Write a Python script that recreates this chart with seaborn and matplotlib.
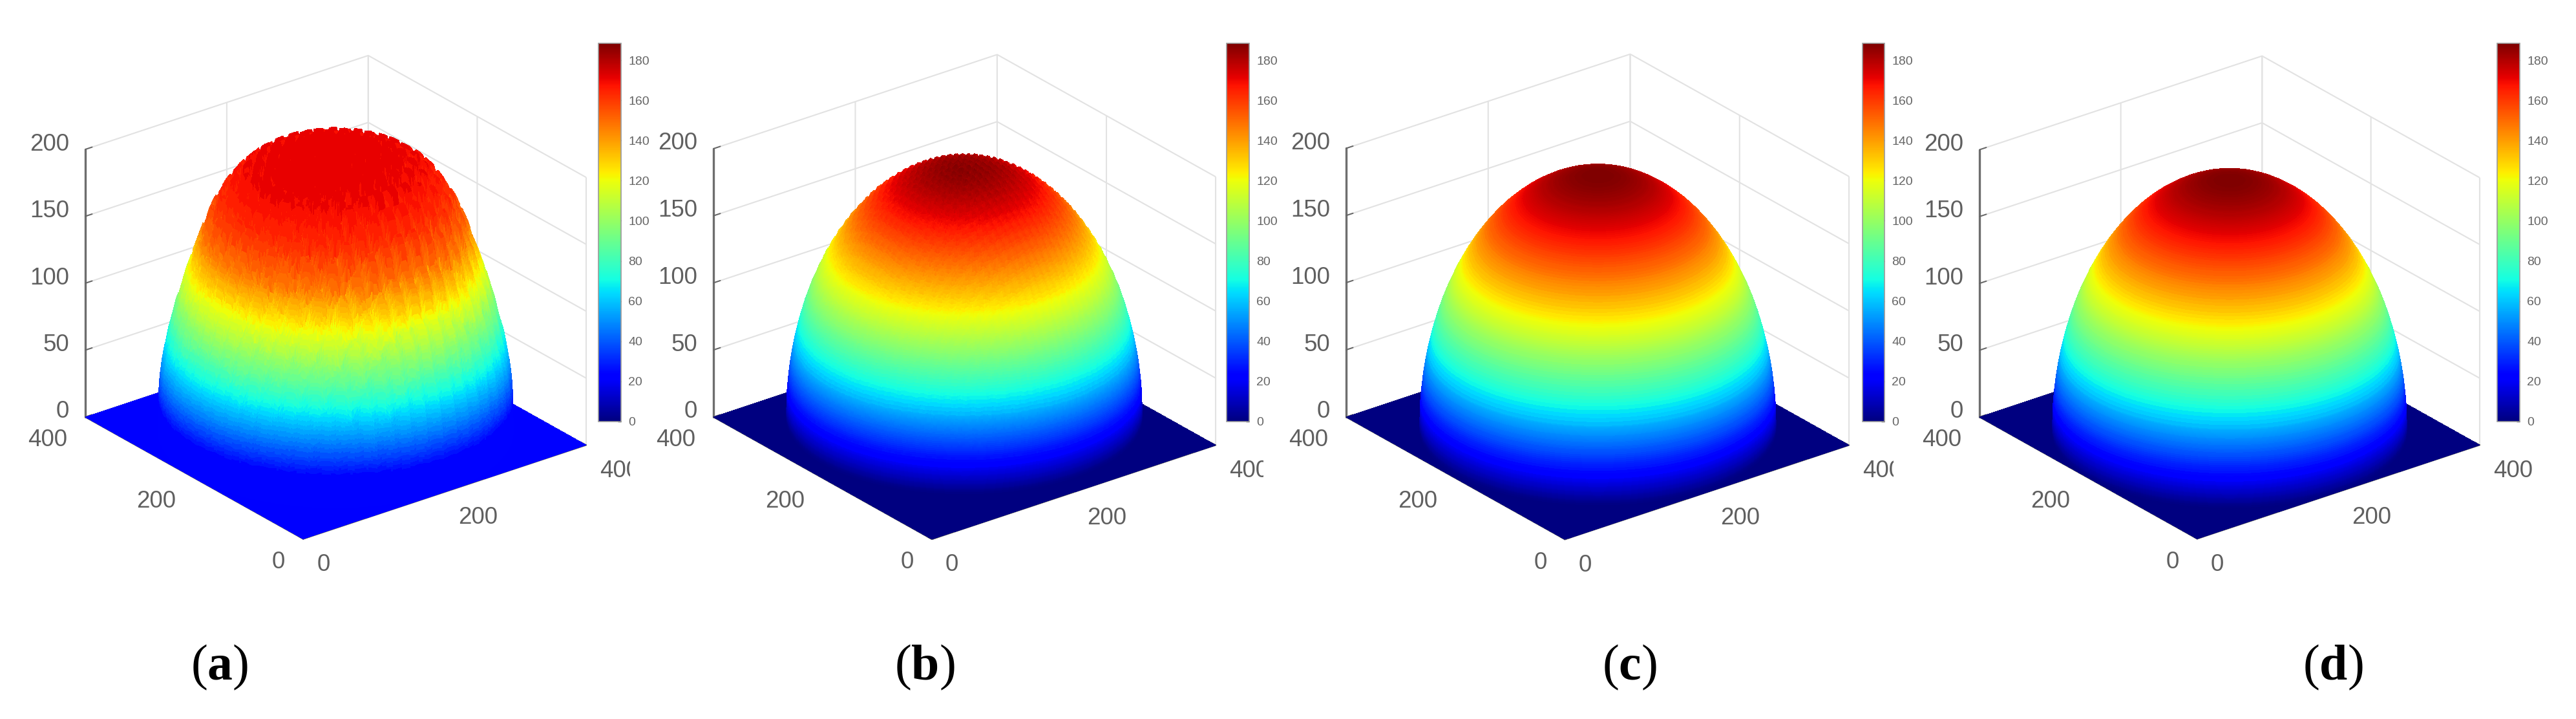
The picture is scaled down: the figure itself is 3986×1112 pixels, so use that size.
import itertools
import numpy as np
import matplotlib
matplotlib.use("Agg")
import matplotlib.pyplot as plt
import seaborn as sns
from matplotlib.cm import ScalarMappable
from matplotlib.colors import Normalize
from matplotlib.patches import Rectangle
from mpl_toolkits.mplot3d import proj3d

# ---- data ----
RADII = [0, 10, 20, 30, 40, 50, 60, 70, 80, 90, 100, 110, 120, 130, 140, 150, 160, 170,
         175, 180, 185, 190, 193, 195, 197, 198, 199]
HEIGHT_A = [212, 212, 212, 211, 210, 209, 208, 206, 204, 201, 197, 192, 185, 176, 165, 150, 132, 114,
            103, 93, 80, 68, 58, 50, 40, 32, 0]
HEIGHT_DOME = [188, 187.8, 187, 185.9, 184.2, 182, 179.3, 176, 172.1, 167.7, 162.5, 156.7, 150, 142.3,
               133.6, 123.5, 111.8, 97.7, 89.5, 80.1, 69.2, 55.9, 45.8, 37.5, 26.6, 18.8, 0]
# repeating dip along each floor axis (one value per 2-unit cell)
DIP_A = [18, 10, 3, 0, 0, 0, 0, 3, 10, 18]
DIP_B = [2.5, 1, 0, 1, 2.5]
CENTERS = [(200, 200), (222, 229), (205, 206), (200, 200)]
# panel (a): colour value seen at each surface height
COLOR_HEIGHT_A = [0, 23, 123, 150, 176, 197, 212]
COLOR_VALUE_A = [23, 23, 122, 148, 163, 170, 172]
COLOR_MAX = 188.4
FLOOR_VALUES = [23, 0, 0, 0]
XY_TICKS = [0, 200, 400]
Z_TICKS = [0, 50, 100, 150, 200]
CBAR_TICKS = [0, 20, 40, 60, 80, 100, 120, 140, 160, 180]
PANEL_LETTERS = ["a", "b", "c", "d"]

W, H = 3987, 1112
DPI = 100
GREY = "#5f5f5f"
ELEV, AZIM = 25.5, 232.4

sns.set_theme(style="white")
plt.rcParams["font.family"] = ["Liberation Sans", "DejaVu Sans"]
plt.rcParams["mathtext.fontset"] = "custom"
plt.rcParams["mathtext.bf"] = "Liberation Serif:bold"
plt.rcParams["mathtext.rm"] = "Liberation Serif"
plt.rcParams["grid.color"] = "#e2e2e2"
plt.rcParams["grid.linewidth"] = 1.5

jet = matplotlib.colormaps["jet"]
fig = plt.figure(figsize=(W / DPI, H / DPI), dpi=DPI, facecolor="white")

# layout in reference pixels (top-left origin)
CORNERS = [
    dict(left=132, right=907, y0=645),
    dict(left=1104, right=1881, y0=645),
    dict(left=2083, right=2861, y0=645),
    dict(left=3063, right=3837, y0=645),
]
CBAR_X = [(926, 961), (1898, 1933), (2882, 2916), (3864, 3899)]
LABEL_X = [340, 1431, 2521, 3610]
CUT_X = [975, 1955, 2930, None]


def project(ax, x, y, z):
    xp, yp, _ = proj3d.proj_transform(x, y, z, ax.get_proj())
    return ax.transData.transform((xp, yp))


def build_surface(heights, center, dip):
    rings = np.concatenate((np.arange(0, 150, 2.0), np.arange(150, 190, 1.0),
                            np.arange(190, 198, 0.25), np.arange(198, 199.01, 0.05)))
    angles = np.deg2rad(np.linspace(0, 360, 481))
    R, T = np.meshgrid(rings, angles)
    X = center[0] + R * np.cos(T)
    Y = center[1] + R * np.sin(T)
    Z = np.interp(R, RADII, heights)
    if dip is not None:
        d = np.asarray(dip, float)
        n = len(d)
        i = (X // 2).astype(int) % n
        j = (Y // 2).astype(int) % n
        Z = np.maximum(Z - (d[i] + d[j]) * (Z / max(heights)) ** 1.5, 0)
    return X, Y, Z


def painter_ranks(X, Y):
    # a height field seen from above: cells farther along the floor are painted first
    fx, fy = -np.cos(np.deg2rad(AZIM)), -np.sin(np.deg2rad(AZIM))
    depth = X * fx + Y * fy
    cells = (depth[:-1, :-1] + depth[1:, :-1] + depth[:-1, 1:] + depth[1:, 1:]) / 4
    return cells.ravel()


def polygon_key(ranks):
    counter = itertools.count()
    n = len(ranks)
    return lambda zs: ranks[next(counter) % n]


panels = [
    (HEIGHT_A, DIP_A),
    (HEIGHT_DOME, DIP_B),
    (HEIGHT_DOME, None),
    (HEIGHT_DOME, None),
]

norm = Normalize(0, COLOR_MAX)
for k, (heights, dip) in enumerate(panels):
    c = CORNERS[k]
    side = 900
    ax = fig.add_axes([c["left"] / W, 0.1, side / W, side / H], projection="3d", computed_zorder=False)
    ax.set_proj_type("ortho")
    ax.view_init(elev=ELEV, azim=AZIM)
    ax.set_box_aspect((553, 553, 459))
    ax.set_xlim(0, 400, view_margin=0)
    ax.set_ylim(0, 400, view_margin=0)
    ax.set_zlim(0, 200, view_margin=0)
    ax.patch.set_alpha(0)

    # floor
    fx, fy = np.meshgrid(XY_TICKS, XY_TICKS)
    ax.plot_surface(fx, fy, np.zeros_like(fx, dtype=float), color=jet(norm(FLOOR_VALUES[k])),
                    shade=False, linewidth=0, antialiased=False, zorder=1)

    # dome
    X, Y, Z = build_surface(heights, CENTERS[k], dip)
    if k == 0:
        colour_values = np.round(np.interp(Z, COLOR_HEIGHT_A, COLOR_VALUE_A) / 3) * 3
    else:
        colour_values = Z * COLOR_MAX / max(heights)
    surf = ax.plot_surface(X, Y, Z, facecolors=jet(norm(colour_values)), rcount=X.shape[0], ccount=X.shape[1],
                           shade=False, linewidth=0, antialiased=False, zorder=2)
    surf._zsortfunc = polygon_key(painter_ranks(X, Y))

    ax.set_xticks(XY_TICKS)
    ax.set_yticks(XY_TICKS)
    ax.set_zticks(Z_TICKS)
    ax.set_xticklabels([])
    ax.set_yticklabels([])
    ax.set_zticklabels([])
    ax.tick_params(axis="both", color="#666666")
    for axis in (ax.xaxis, ax.yaxis, ax.zaxis):
        axis.set_pane_color((1, 1, 1, 0))
        axis.pane.set_edgecolor((1, 1, 1, 0))
        axis.line.set_color("#5a5a5a")
        axis.line.set_linewidth(1.6)
        axis._axinfo["tick"]["inward_factor"] = 0.0
        axis._axinfo["tick"]["outward_factor"] = 0.3
        axis._axinfo["tick"]["linewidth"] = {True: 1.4, False: 1.0}
    ax.zaxis.line.set_color("#6e6e6e")
    ax.zaxis.line.set_linewidth(2.4)

    # place the box on the reference pixels
    for _ in range(2):
        ax.apply_aspect()
        p_left = project(ax, 0, 400, 0)
        p_right = project(ax, 400, 0, 0)
        scale = (c["right"] - c["left"]) / (p_right[0] - p_left[0])
        pos = ax.get_position()
        side_px = pos.width * W * scale
        ax.set_position([pos.x0, pos.y0, side_px / W, side_px / H])
        ax.apply_aspect()
        p_left = project(ax, 0, 400, 0)
        pos = ax.get_position()
        dx = c["left"] - p_left[0]
        dy = (H - c["y0"]) - p_left[1]
        ax.set_position([pos.x0 + dx / W, pos.y0 + dy / H, pos.width, pos.height])
    ax.apply_aspect()

    # tick labels, anchored at the projected tick positions
    for t in XY_TICKS:
        p = project(ax, t, 0, 0)
        fig.text((p[0] + 21) / W, (p[1] - 40) / H, str(t), ha="left", va="center", fontsize=26.5, color=GREY)
        p = project(ax, 0, t, 0)
        fig.text((p[0] - 28) / W, (p[1] - 36) / H, str(t), ha="right", va="center", fontsize=26.5, color=GREY)
    for t in Z_TICKS:
        p = project(ax, 0, 400, t)
        fig.text((p[0] - 25) / W, (p[1] + 8) / H, str(t), ha="right", va="center", fontsize=26.5, color=GREY)

    # colour bar
    x0, x1 = CBAR_X[k]
    cax = fig.add_axes([x0 / W, 1 - 652 / H, (x1 - x0) / W, (652 - 67) / H])
    cb = fig.colorbar(ScalarMappable(norm=norm, cmap=jet), cax=cax)
    cb.set_ticks(CBAR_TICKS)
    cax.tick_params(direction="in", length=3.5, width=1, color="#333333", labelsize=14,
                    labelcolor="#666666", pad=8, right=True, left=False)
    cb.outline.set_edgecolor("#9a9a9a")
    cb.outline.set_linewidth(1.2)

    # panel caption
    fig.text(LABEL_X[k] / W, 1 - 1032 / H, "($\\mathbf{%s}$)" % PANEL_LETTERS[k],
             family="Liberation Serif", fontsize=56, color="black", ha="center", va="center")

    # the reference crops the "400" at the colour bar's right margin
    if CUT_X[k] is not None:
        fig.add_artist(Rectangle((CUT_X[k] / W, 1 - 770 / H), 32 / W, 70 / H, transform=fig.transFigure,
                                 facecolor="white", edgecolor="none", zorder=5))

fig.savefig("out.png", dpi=DPI, facecolor="white")
